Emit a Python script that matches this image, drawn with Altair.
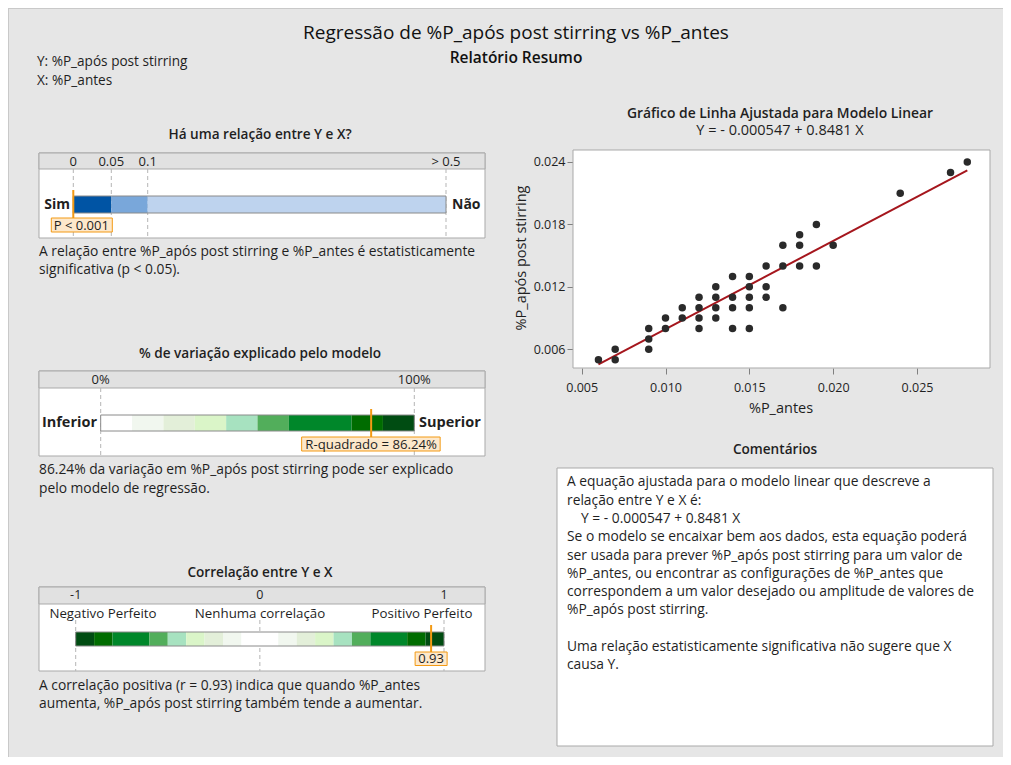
import altair as alt
import pandas as pd

# ---------------- data ----------------
main_title = "Regressão de %P_após post stirring vs %P_antes"
sub_title = "Relatório Resumo"
y_var_label = "Y: %P_após post stirring"
x_var_label = "X: %P_antes"

# p-value gauge
p_lo = [0.0, 0.05, 0.1]
p_hi = [0.05, 0.1, 0.5]
p_colors = ["#0054a4", "#79a7da", "#bed3ee"]
p_ticks = [0.0, 0.05, 0.1, 0.5]
p_tick_labels = ["0", "0.05", "0.1", "> 0.5"]
p_marker = [0.0]
p_marker_label = "P < 0.001"

# R-squared gauge (%)
r2_lo = [0, 10, 20, 30, 40, 50, 60, 80, 90]
r2_hi = [10, 20, 30, 40, 50, 60, 80, 90, 100]
r2_colors = ["#ffffff", "#f1f7ef", "#e3efd9", "#daf5c8", "#a7e2c0",
             "#52ae5b", "#00872a", "#006c00", "#004c12"]
r2_ticks = [0, 100]
r2_tick_labels = ["0%", "100%"]
r2_value = [86.24]
r2_label = "R-quadrado = 86.24%"

# correlation gauge
c_lo = [-1, -0.9, -0.8, -0.6, -0.5, -0.4, -0.3, -0.2, -0.1, 0.1, 0.2, 0.3, 0.4, 0.5, 0.6, 0.8, 0.9]
c_hi = [-0.9, -0.8, -0.6, -0.5, -0.4, -0.3, -0.2, -0.1, 0.1, 0.2, 0.3, 0.4, 0.5, 0.6, 0.8, 0.9, 1]
c_colors = ["#004c12", "#006c00", "#00872a", "#52ae5b", "#a7e2c0", "#daf5c8", "#e3efd9", "#f1f7ef",
            "#ffffff",
            "#f1f7ef", "#e3efd9", "#daf5c8", "#a7e2c0", "#52ae5b", "#00872a", "#006c00", "#004c12"]
c_ticks = [-1, 0, 1]
c_tick_labels = ["-1", "0", "1"]
r_value = [0.93]
r_label = "0.93"

# scatter data
x_antes = [0.006, 0.007, 0.007, 0.009, 0.009, 0.009, 0.010, 0.010, 0.011, 0.011,
           0.012, 0.012, 0.012, 0.012, 0.013, 0.013, 0.013, 0.013, 0.014, 0.014,
           0.014, 0.014, 0.015, 0.015, 0.015, 0.015, 0.015, 0.016, 0.016, 0.016,
           0.017, 0.017, 0.017, 0.018, 0.018, 0.018, 0.019, 0.019, 0.020, 0.024,
           0.027, 0.028]
y_apos = [0.005, 0.006, 0.005, 0.008, 0.007, 0.006, 0.009, 0.008, 0.010, 0.009,
          0.011, 0.010, 0.009, 0.008, 0.012, 0.011, 0.010, 0.009, 0.013, 0.011,
          0.010, 0.008, 0.013, 0.012, 0.011, 0.010, 0.008, 0.014, 0.012, 0.011,
          0.016, 0.014, 0.010, 0.017, 0.016, 0.014, 0.018, 0.014, 0.016, 0.021,
          0.023, 0.024]
intercept = -0.000547
slope = 0.8481
x_ticks = [0.005, 0.010, 0.015, 0.020, 0.025]
y_ticks = [0.006, 0.012, 0.018, 0.024]
x_title = "%P_antes"
y_title = "%P_após post stirring"
scatter_title = "Gráfico de Linha Ajustada para Modelo Linear"
equation = "Y = - 0.000547 + 0.8481 X"

text_p = ["A relação entre %P_após post stirring e %P_antes é estatisticamente",
          "significativa (p < 0.05)."]
text_r2 = ["86.24% da variação em %P_após post stirring pode ser explicado",
           "pelo modelo de regressão."]
text_r = ["A correlação positiva (r = 0.93) indica que quando %P_antes",
          "aumenta, %P_após post stirring também tende a aumentar."]
comments = ["A equação ajustada para o modelo linear que descreve a",
            "relação entre Y e X é:",
            "Y = - 0.000547 + 0.8481 X",
            "Se o modelo se encaixar bem aos dados, esta equação poderá",
            "ser usada para prever %P_após post stirring para um valor de",
            "%P_antes, ou encontrar as configurações de %P_antes que",
            "correspondem a um valor desejado ou amplitude de valores de",
            "%P_após post stirring.",
            "",
            "Uma relação estatisticamente significativa não sugere que X",
            "causa Y."]

# ---------------- layout helpers ----------------
W, H = 995, 749
OX, OY = 8, 8
FONT = "Open Sans"
TXT = "#1f1f1f"
ORANGE = "#f39a14"
BORDER = "#a9a9a9"
BODY = 13.8
one = pd.DataFrame({"a": [0]})


def X(px):
    return px - OX


def Y(py):
    return py - OY


def text(s, x, y, size=BODY, weight="normal", align="left", angle=0, color=TXT):
    mk = dict(text=s, fontSize=size, fontWeight=weight, align=align,
              baseline="middle", color=color, font=FONT)
    if angle:
        mk["angle"] = angle
    return alt.Chart(one).mark_text(**mk).encode(x=alt.value(X(x)), y=alt.value(Y(y)))


def rect(x1, y1, x2, y2, fill, stroke=None, sw=1):
    mk = dict(fill=fill)
    if stroke:
        mk.update(stroke=stroke, strokeWidth=sw)
    return alt.Chart(one).mark_rect(**mk).encode(
        x=alt.value(X(x1)), x2=alt.value(X(x2)), y=alt.value(Y(y1)), y2=alt.value(Y(y2)))


def hline(x1, x2, y, color, w=1):
    return alt.Chart(one).mark_rule(color=color, strokeWidth=w).encode(
        x=alt.value(X(x1)), x2=alt.value(X(x2)), y=alt.value(Y(y)))


def vline(x, y1, y2, color, w=1):
    return alt.Chart(one).mark_rule(color=color, strokeWidth=w).encode(
        x=alt.value(X(x)), y=alt.value(Y(y1)), y2=alt.value(Y(y2)))


def gauge(top, head_bot, bot, domain, rng, lo, hi, colors, ticks, tick_labels,
          dash_top, bar_top, bar_bot, marker, m_top, m_bot, label, off_l, off_r,
          lab_top, lab_bot, lab_dx, lab_size, tick_size=13, tick_y=None):
    s = alt.Scale(domain=domain, range=[X(r) for r in rng], nice=False, zero=False)
    if tick_y is None:
        tick_y = (top + head_bot) / 2 + 0.5
    L = []
    L.append(rect(39, top, 485, bot, "#ffffff", BORDER))
    L.append(rect(39, top, 485, head_bot, "#e1e1e1", BORDER))
    tdf = pd.DataFrame({"v": ticks, "t": tick_labels})
    L.append(alt.Chart(tdf).mark_text(font=FONT, fontSize=tick_size, color=TXT, baseline="middle").encode(
        x=alt.X("v:Q", scale=s, axis=None), y=alt.value(Y(tick_y)), text="t:N"))
    L.append(alt.Chart(tdf).mark_rule(color="#b5b5b5", strokeDash=[4, 3]).encode(
        x=alt.X("v:Q", scale=s, axis=None), y=alt.value(Y(dash_top)), y2=alt.value(Y(bot))))
    sdf = pd.DataFrame({"lo": lo, "hi": hi, "c": colors})
    L.append(alt.Chart(sdf).mark_rect().encode(
        x=alt.X("lo:Q", scale=s, axis=None), x2="hi:Q",
        y=alt.value(Y(bar_top)), y2=alt.value(Y(bar_bot)),
        color=alt.Color("c:N", scale=None)))
    odf = pd.DataFrame({"lo": [lo[0]], "hi": [hi[-1]]})
    L.append(alt.Chart(odf).mark_rect(fillOpacity=0, stroke="#8a8a8a", strokeWidth=1).encode(
        x=alt.X("lo:Q", scale=s, axis=None), x2="hi:Q",
        y=alt.value(Y(bar_top)), y2=alt.value(Y(bar_bot))))
    mdf = pd.DataFrame({"v": marker, "t": [label]})
    L.append(alt.Chart(mdf).mark_rule(color=ORANGE, strokeWidth=2).encode(
        x=alt.X("v:Q", scale=s, axis=None), y=alt.value(Y(m_top)), y2=alt.value(Y(m_bot))))
    L.append(alt.Chart(mdf).mark_rect(fill="#fde8cb", stroke=ORANGE, strokeWidth=1,
                                      xOffset=off_l, x2Offset=off_r).encode(
        x=alt.X("v:Q", scale=s, axis=None), x2="v:Q",
        y=alt.value(Y(lab_top)), y2=alt.value(Y(lab_bot))))
    L.append(alt.Chart(mdf).mark_text(font=FONT, fontSize=lab_size, color=TXT, baseline="middle",
                                      dx=lab_dx).encode(
        x=alt.X("v:Q", scale=s, axis=None), y=alt.value(Y((lab_top + lab_bot) / 2 + 0.5)), text="t:N"))
    return L


layers = []
# panel border (left/top)
layers.append(vline(8.5, 8, 765, "#c9c9c9"))
layers.append(hline(8, 1011, 8.5, "#c9c9c9"))

# titles
layers.append(text(main_title, 516, 33, size=19, align="center", color="#111111"))
layers.append(text(sub_title, 516, 57.5, size=15.5, weight=600, align="center", color="#111111"))
layers.append(text(y_var_label, 37, 62, size=13.6))
layers.append(text(x_var_label, 37, 81, size=13.6))

SEC = 13.6
# ---- gauge 1: p-value
layers.append(text("Há uma relação entre Y e X?", 260, 135, size=SEC, weight=600, align="center"))
layers += gauge(153, 169, 238, p_ticks, [73.3, 111.3, 147.7, 446], p_lo, p_hi, p_colors,
                p_ticks, p_tick_labels, 169, 196, 213, p_marker, 190, 219, p_marker_label,
                -22, 39, 218, 232, 8, 13)
layers.append(text("Sim", 70, 205, size=14, weight="bold", align="right"))
layers.append(text("Não", 452, 205, size=14, weight="bold"))
layers.append(text(text_p[0], 39, 252))
layers.append(text(text_p[1], 39, 270))

# ---- gauge 2: R-squared
layers.append(text("% de variação explicado pelo modelo", 260, 354, size=SEC, weight=600, align="center"))
layers += gauge(371, 388, 456, [0, 100], [100.7, 414.3], r2_lo, r2_hi, r2_colors,
                r2_ticks, r2_tick_labels, 388, 415, 431, r2_value, 409, 438, r2_label,
                -69.5, 69, 437, 451, 0, 13.2)
layers.append(text("Inferior", 97, 423, size=14.5, weight="bold", align="right"))
layers.append(text("Superior", 419, 423, size=14.5, weight="bold"))
layers.append(text(text_r2[0], 39, 470))
layers.append(text(text_r2[1], 39, 489))

# ---- gauge 3: correlation
layers.append(text("Correlação entre Y e X", 260, 573, size=SEC, weight=600, align="center"))
layers += gauge(587, 604, 671, [-1, 1], [75.7, 444], c_lo, c_hi, c_colors,
                c_ticks, c_tick_labels, 620, 632, 646, r_value, 625, 652, r_label,
                -16, 16, 652, 665.5, 0, 13, tick_size=12.5, tick_y=595)
layers.append(text("Negativo Perfeito", 103, 613.5, size=13.3, align="center"))
layers.append(text("Nenhuma correlação", 260, 613.5, size=13.3, align="center"))
layers.append(text("Positivo Perfeito", 422, 613.5, size=13.3, align="center"))
layers.append(text(text_r[0], 39, 686))
layers.append(text(text_r[1], 39, 704))

# ---- scatter
layers.append(text(scatter_title, 780, 114, size=13.9, weight=600, align="center"))
layers.append(text(equation, 780, 131, size=14.5, align="center"))
layers.append(rect(573, 150, 990, 368, "#ffffff", BORDER))

sx = alt.Scale(domain=[0.004483, 0.029354], range=[X(573), X(990)], nice=False, zero=False)
sy = alt.Scale(domain=[0.004203, 0.025153], range=[Y(368), Y(150)], nice=False, zero=False)
ax_common = dict(domain=False, grid=False, tickSize=6, tickColor="#808080", labelFont=FONT,
                 labelFontSize=12.5, labelColor=TXT, title=None, format=".3f")
xaxis = alt.Axis(values=x_ticks, orient="bottom", offset=Y(368) - H, labelPadding=7, **ax_common)
yaxis = alt.Axis(values=y_ticks, orient="left", offset=-X(573), labelPadding=2, **ax_common)

sdf = pd.DataFrame({"x": x_antes, "y": y_apos})
fit = pd.DataFrame({"x": [min(x_antes), max(x_antes)]})
layers.append(alt.Chart(fit).mark_line(color="#a5161d", strokeWidth=2).transform_calculate(
    y=f"{intercept} + {slope} * datum.x").encode(
    x=alt.X("x:Q", scale=sx, axis=None), y=alt.Y("y:Q", scale=sy, axis=None)))
layers.append(alt.Chart(sdf).mark_circle(color="#2a2a2a", opacity=1, size=56).encode(
    x=alt.X("x:Q", scale=sx, axis=xaxis), y=alt.Y("y:Q", scale=sy, axis=yaxis)))
layers.append(text(y_title, 522, 258, size=14.5, angle=270, align="center"))
layers.append(text(x_title, 781, 409, size=14.5, align="center"))

# ---- comments
layers.append(text("Comentários", 775, 450, size=SEC, weight=600, align="center"))
layers.append(rect(557, 468, 993, 746, "#ffffff", BORDER))
cy = [482.3, 500.7, 519, 536.7, 555.7, 574, 592.3, 610, 628, 647, 665.3]
for i, (line, yy) in enumerate(zip(comments, cy)):
    if line:
        layers.append(text(line, 581 if i == 2 else 567, yy, size=13.8))

chart = alt.layer(*layers).resolve_scale(x="independent", y="independent").properties(
    width=W, height=H, autosize="none", padding=0, background="#e6e6e6"
).configure_view(stroke=None)

chart.save("out.html", embed_options={"renderer": "svg", "actions": False})
